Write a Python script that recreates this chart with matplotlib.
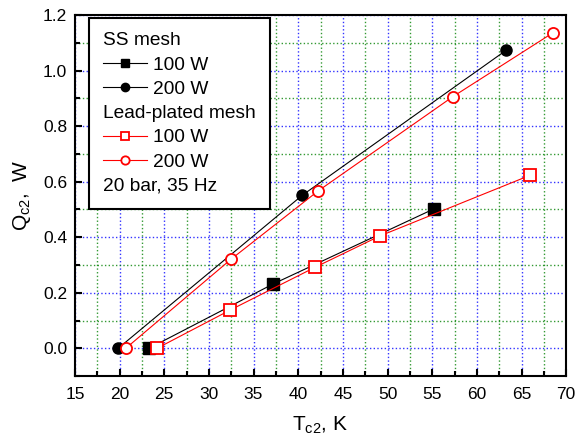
import numpy as np
import matplotlib
matplotlib.use("Agg")
import matplotlib.pyplot as plt
from matplotlib.lines import Line2D
from matplotlib.ticker import MultipleLocator

plt.rcParams['font.family'] = ['Liberation Sans', 'DejaVu Sans']
plt.rcParams['mathtext.fontset'] = 'custom'
plt.rcParams['mathtext.rm'] = 'Liberation Sans'

# SS mesh
ss100_t = [23.3, 37.15, 55.25]
ss100_q = [0.0, 0.231, 0.503]
ss200_t = [19.85, 40.45, 63.3]
ss200_q = [0.0, 0.551, 1.074]
# Lead-plated mesh
pb100_t = [24.2, 32.4, 41.9, 49.1, 65.95]
pb100_q = [0.0, 0.138, 0.292, 0.404, 0.623]
pb200_t = [20.7, 32.45, 42.2, 57.3, 68.55]
pb200_q = [0.0, 0.32, 0.566, 0.906, 1.137]

fig = plt.figure(figsize=(5.76, 4.44), dpi=100)
ax = fig.add_axes([0.130, 0.153, 0.853, 0.813])

ax.set_xlim(15, 70)
ax.set_ylim(-0.1, 1.2)
ax.xaxis.set_major_locator(MultipleLocator(5))
ax.xaxis.set_minor_locator(MultipleLocator(2.5))
ax.yaxis.set_major_locator(MultipleLocator(0.2))
ax.yaxis.set_minor_locator(MultipleLocator(0.1))
ax.yaxis.set_major_formatter(plt.FormatStrFormatter('%.1f'))

ax.grid(which='major', color='#0000ff', linestyle=':', linewidth=1.0, alpha=0.8)
ax.grid(which='minor', color='#008000', linestyle=':', linewidth=1.0, alpha=0.8)
ax.set_axisbelow(True)

ms = 8
l1, = ax.plot(ss100_t, ss100_q, '-', color='black', lw=0.8, marker='s', ms=ms, mfc='black', mec='black')
l2, = ax.plot(ss200_t, ss200_q, '-', color='black', lw=0.8, marker='o', ms=ms, mfc='black', mec='black')
l3, = ax.plot(pb100_t, pb100_q, '-', color='red', lw=0.8, marker='s', ms=ms, mfc='white', mec='red', mew=1.3)
l4, = ax.plot(pb200_t, pb200_q, '-', color='red', lw=0.8, marker='o', ms=ms, mfc='white', mec='red', mew=1.3)

for s in ax.spines.values():
    s.set_linewidth(1.5)
ax.tick_params(which='both', direction='in', top=False, right=False, labelsize=12.5, width=1.5)
ax.tick_params(which='major', length=5)
ax.tick_params(which='minor', length=3.5)
ax.tick_params(axis='x', pad=8)
ax.tick_params(axis='y', pad=5.5)

ax.set_xlabel(r'T$_{\mathregular{c2}}$, K', fontsize=15, labelpad=9)
ax.set_ylabel(r'Q$_{\mathregular{c2}}$,  W', fontsize=15, labelpad=7)

blank = Line2D([], [], linestyle='none')
handles = [blank, l1, l2, blank, l3, l4, blank]
labels = ['SS mesh', '100 W', '200 W', 'Lead-plated mesh', '100 W', '200 W', '20 bar, 35 Hz']
leg = ax.legend(handles, labels, loc='upper left', bbox_to_anchor=(0.0285, 0.992),
                borderaxespad=0, fontsize=13.8, handlelength=2.3, handletextpad=0.3,
                labelspacing=0.36, markerscale=0.75, fancybox=False, frameon=True,
                edgecolor='black', framealpha=1, borderpad=0.75)
leg.get_frame().set_linewidth(1.5)
# header rows: drop the empty handle so the text starts at the handle column
rows = leg._legend_handle_box.get_children()[0].get_children()
for i in (0, 3, 6):
    rows[i]._children = rows[i]._children[1:]

fig.savefig('out.png', dpi=100)
